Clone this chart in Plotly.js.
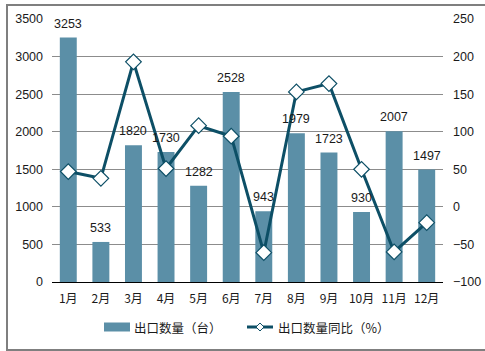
<!DOCTYPE html>
<html>
<head>
<meta charset="utf-8">
<script src="https://cdn.plot.ly/plotly-3.0.1.min.js"></script>
<style>
html,body{margin:0;padding:0;background:#fff;overflow:hidden;width:485px;height:351px;}
#frame{position:absolute;left:6px;top:4px;width:479px;height:343px;border:2px solid #7f7f7f;border-right:none;box-sizing:border-box;height:347px;}
#chart{position:absolute;left:0;top:0;width:485px;height:351px;}
</style>
</head>
<body>
<div id="frame"></div>
<div id="chart"></div>
<script>
const months = ["1月","2月","3月","4月","5月","6月","7月","8月","9月","10月","11月","12月"];
const exportQty = [3253,533,1820,1730,1282,2528,943,1979,1723,930,2007,1497];
const exportYoY = [47,38,193,51,108,94,-61,153,164,50,-60,-21];
const barName = "出口数量（台）";
const lineName = "出口数量同比（%）";

const fontFam = "Liberation Sans, Arial, Noto Sans CJK SC, sans-serif";
const cjkFam = "Noto Sans CJK SC, Liberation Sans, sans-serif";
const txtColor = "#1a1a1a";
const barColor = "#5b8fa7";
const lineColor = "#0d4f66";

// plot area in pixels
const L = 52, R = 443, T = 19, B = 282;
const px = x => (x - L) / (R - L);
const py = y => (B - y) / (B - T);

const traces = [
  {
    type: "bar",
    x: months,
    y: exportQty,
    name: barName,
    marker: {color: barColor},
    width: 0.52,
    showlegend: false,
    yaxis: "y"
  },
  {
    type: "scatter",
    mode: "lines+markers",
    x: months,
    y: exportYoY,
    name: lineName,
    line: {color: lineColor, width: 3},
    marker: {symbol: "diamond", size: 12, color: "#ffffff", line: {color: lineColor, width: 1.2}},
    cliponaxis: false,
    showlegend: false,
    yaxis: "y2"
  }
];

const annotations = months.map((m, i) => ({
  x: m, y: exportQty[i], xref: "x", yref: "y",
  text: String(exportQty[i]),
  showarrow: false, yanchor: "bottom", yshift: 5,
  font: {family: fontFam, size: 12.5, color: txtColor}
}));
annotations.push(
  {xref: "paper", yref: "paper", x: px(132), y: py(327), xanchor: "left", yanchor: "middle",
   text: barName, showarrow: false, font: {family: cjkFam, size: 12.5, color: txtColor}},
  {xref: "paper", yref: "paper", x: px(276), y: py(327), xanchor: "left", yanchor: "middle",
   text: lineName, showarrow: false, font: {family: cjkFam, size: 12.5, color: txtColor}}
);

const dx = 4, dy = 4, cx = 260, cy = 327;
const shapes = [
  {type: "rect", xref: "paper", yref: "paper", x0: px(104), x1: px(130), y0: py(331.5), y1: py(322.5),
   fillcolor: barColor, line: {width: 0}},
  {type: "line", xref: "paper", yref: "paper", x0: px(247), x1: px(273), y0: py(cy), y1: py(cy),
   line: {color: lineColor, width: 3}},
  {type: "path", xref: "paper", yref: "paper",
   path: `M${px(cx-dx)},${py(cy)} L${px(cx)},${py(cy-dy)} L${px(cx+dx)},${py(cy)} L${px(cx)},${py(cy+dy)} Z`,
   fillcolor: "#ffffff", line: {color: lineColor, width: 1}}
];

const layout = {
  width: 485,
  height: 351,
  margin: {l: L, r: 485 - R, t: T, b: 351 - B},
  paper_bgcolor: "rgba(0,0,0,0)",
  plot_bgcolor: "rgba(0,0,0,0)",
  font: {family: fontFam, size: 12.5, color: txtColor},
  showlegend: false,
  annotations: annotations,
  shapes: shapes,
  xaxis: {
    type: "category",
    range: [-0.5, 11.5],
    showgrid: false,
    showline: true,
    linecolor: "#000",
    linewidth: 1,
    ticks: "",
    ticklabelstandoff: 6,
    tickfont: {family: cjkFam, size: 12, color: txtColor},
    fixedrange: true
  },
  yaxis: {
    range: [0, 3500],
    dtick: 500,
    showgrid: true,
    gridcolor: "#8c8c8c",
    gridwidth: 1,
    zeroline: false,
    showline: false,
    ticks: "",
    ticklabelstandoff: 8,
    automargin: false,
    tickfont: {size: 12.5, color: txtColor}
  },
  yaxis2: {
    overlaying: "y",
    side: "right",
    range: [-100, 250],
    dtick: 50,
    showgrid: false,
    zeroline: false,
    showline: false,
    ticks: "",
    ticklabelstandoff: 9,
    automargin: false,
    tickfont: {size: 12.5, color: txtColor}
  }
};

Plotly.newPlot("chart", traces, layout, {displayModeBar: false, staticPlot: true});
</script>
</body>
</html>
